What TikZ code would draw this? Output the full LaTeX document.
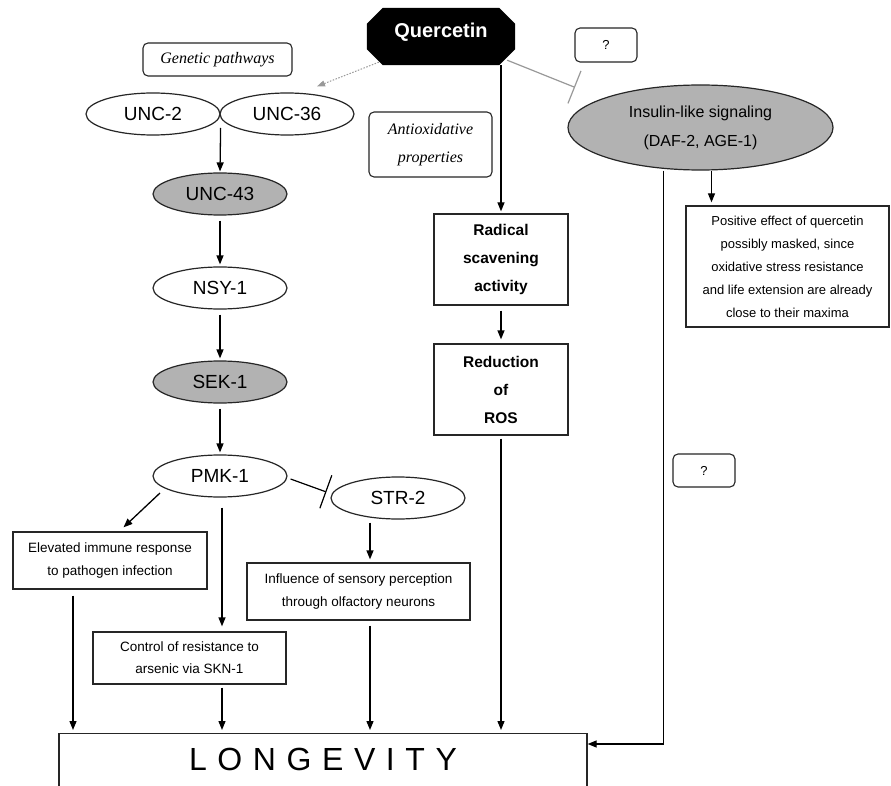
\documentclass[tikz,border=0pt]{standalone}
\usepackage{fontspec}
\setmainfont{Liberation Sans}
\newfontfamily\serifit{Liberation Serif}
\usetikzlibrary{shapes.geometric,arrows.meta,calc}
\newcommand\fsz[2]{\fontsize{#1}{#2}\selectfont}
\begin{document}
\begin{tikzpicture}[x=1pt,y=-1pt,
  ell/.style={ellipse, draw=black!85, line width=1.2pt, minimum width=134pt, minimum height=42pt, inner sep=0pt, font=\fsz{19}{22}},
  gell/.style={ell, fill=gray!60},
  bx/.style={rectangle, draw=black!85, line width=1.3pt, inner sep=0pt, align=center},
  rbx/.style={bx, rounded corners=5pt, line width=1.1pt},
  arr/.style={-{Triangle[length=9pt,width=7pt]}, line width=1.3pt},
  inh/.style={-{Bar[width=35pt,line width=1.2pt]}, line width=1.2pt},
  dotarr/.style={-{Triangle[length=8pt,width=6pt]}, gray!80, line width=1pt, dash pattern=on 1.5pt off 1.5pt}
]
\useasboundingbox (0,0) rectangle (891,786);
\clip (0,0) rectangle (891,786);
\fill[white] (0,0) rectangle (891,786);

% Quercetin
\node[minimum width=148pt, minimum height=57pt, inner sep=0pt] (Q) at (441,36.5) {};
\fill[black] ([xshift=16pt]Q.north west) -- ([xshift=-16pt]Q.north east) -- ([yshift=-16pt]Q.north east)
  -- ([yshift=16pt]Q.south east) -- ([xshift=-16pt]Q.south east) -- ([xshift=16pt]Q.south west)
  -- ([yshift=16pt]Q.south west) -- ([yshift=-16pt]Q.north west) -- cycle;
\node[white, font=\bfseries\fsz{20}{24}] (Qt) at ([yshift=4pt]Q.center) {Quercetin};

\node[rbx, minimum width=62pt, minimum height=34pt, font=\fsz{13}{15}] (q1) at (606,45) {?};
\node[rbx, minimum width=149pt, minimum height=33pt, font=\serifit\itshape\fsz{16}{19}] (gen) at (217.5,59.5) {Genetic pathways};

\node[ell] (U2) at (153,114) {UNC-2};
\node[ell] (U36) at (287,114) {UNC-36};
\node[gell] (U43) at (220,194) {UNC-43};
\node[ell] (N1) at (220,288) {NSY-1};
\node[gell] (S1) at (220,382) {SEK-1};
\node[ell] (P1) at (220,476) {PMK-1};
\node[ell] (S2) at (398,498) {STR-2};

\node[rbx, minimum width=123pt, minimum height=65pt, font=\serifit\itshape\fsz{16}{28}] (anti) at (430.5,144.5) {Antioxidative\\properties};
\node[bx, minimum width=134pt, minimum height=91pt, font=\bfseries\fsz{15.5}{28}] (rad) at (501,259.5) {Radical\\scavening\\activity};
\node[bx, minimum width=134pt, minimum height=91pt, font=\bfseries\fsz{15.5}{28}] (ros) at (501,389.5) {Reduction\\of\\ROS};

\node[ellipse, draw=black!85, line width=1.2pt, fill=gray!60, minimum width=265pt, minimum height=85pt, inner sep=0pt, align=center, font=\fsz{16}{29}] (ins) at (700.5,127.5) {Insulin-like signaling\\(DAF-2, AGE-1)};
\node[bx, minimum width=203pt, minimum height=121pt, font=\fsz{13}{23}] (pos) at (787.5,266.5) {Positive effect of quercetin\\possibly masked, since\\oxidative stress resistance\\and life extension are already\\close to their maxima};
\node[rbx, minimum width=62pt, minimum height=33pt, font=\fsz{13}{15}] (q2) at (704,470.5) {?};

\node[bx, minimum width=194pt, minimum height=57pt, font=\fsz{13.5}{23}] (elev) at (110,560.5) {Elevated immune response\\to pathogen infection};
\node[bx, minimum width=223pt, minimum height=57pt, font=\fsz{13.5}{23}] (infl) at (358.5,591.5) {Influence of sensory perception\\through olfactory neurons};
\node[bx, minimum width=193pt, minimum height=52pt, font=\fsz{13.5}{22}] (ctrl) at (189.5,658) {Control of resistance to\\arsenic via SKN-1};

\node[bx, anchor=north, minimum width=528pt, text height=23pt, text depth=40pt, inner ysep=14pt, font=\fsz{32}{36}] (long) at (323,733) {\spaceskip=10.6pt L O N G E V I T Y};

% connectors
\draw[dotarr] ([shift={(12,-3)}]Q.south west) -- ([shift={(30,-6)}]U36.north);
\draw[inh, gray!80] ([shift={(-8,-5)}]Q.south east) -- ([shift={(-125.5,3)}]ins.north);
\draw[arr, shorten >=2pt] ([xshift=60pt]Q.south) -- (rad.north);
\draw[arr, shorten <=5pt, shorten >=4pt] (rad) -- (ros);
\draw[arr, shorten <=3pt, shorten >=3pt] (ros.south) -- (ros.south |- long.north);

\draw[arr, shorten >=1pt] ([yshift=-14pt]U2.east) -- (U43.north);
\draw[arr, shorten <=5pt, shorten >=2pt] (U43) -- (N1);
\draw[arr, shorten <=5pt, shorten >=2pt] (N1) -- (S1);
\draw[arr, shorten <=5pt, shorten >=2pt] (S1) -- (P1);

\coordinate (a) at ([xshift=11pt]ins.south);
\draw[arr, shorten >=3pt] (a) -- (a |- pos.north);
\coordinate (b) at ([xshift=-37pt]ins.south);
\draw[arr] (b) |- ([yshift=-11pt]long.north east);

\draw[arr] ([shift={(-60,17)}]P1.center) -- ([shift={(13.5,-4)}]elev.north);
\coordinate (c) at ([xshift=2pt]P1.south);
\draw[arr, shorten <=10pt, shorten >=5pt] (c) -- (c |- ctrl.north);
\draw[inh] ([shift={(3,3)}]P1.east) -- ([shift={(-4,-6)}]S2.west);
\coordinate (d) at ([xshift=-28pt]S2.south);
\draw[arr, shorten <=3pt, shorten >=3pt] (d) -- (d |- infl.north);

\coordinate (e) at ([xshift=-37pt]elev.south);
\draw[arr, shorten <=6pt, shorten >=3pt] (e) -- (e |- long.north);
\coordinate (f) at ([xshift=32.5pt]ctrl.south);
\draw[arr, shorten <=3pt, shorten >=3pt] (f) -- (f |- long.north);
\coordinate (g) at ([xshift=11.5pt]infl.south);
\draw[arr, shorten <=5pt, shorten >=3pt] (g) -- (g |- long.north);
\end{tikzpicture}
\end{document}
